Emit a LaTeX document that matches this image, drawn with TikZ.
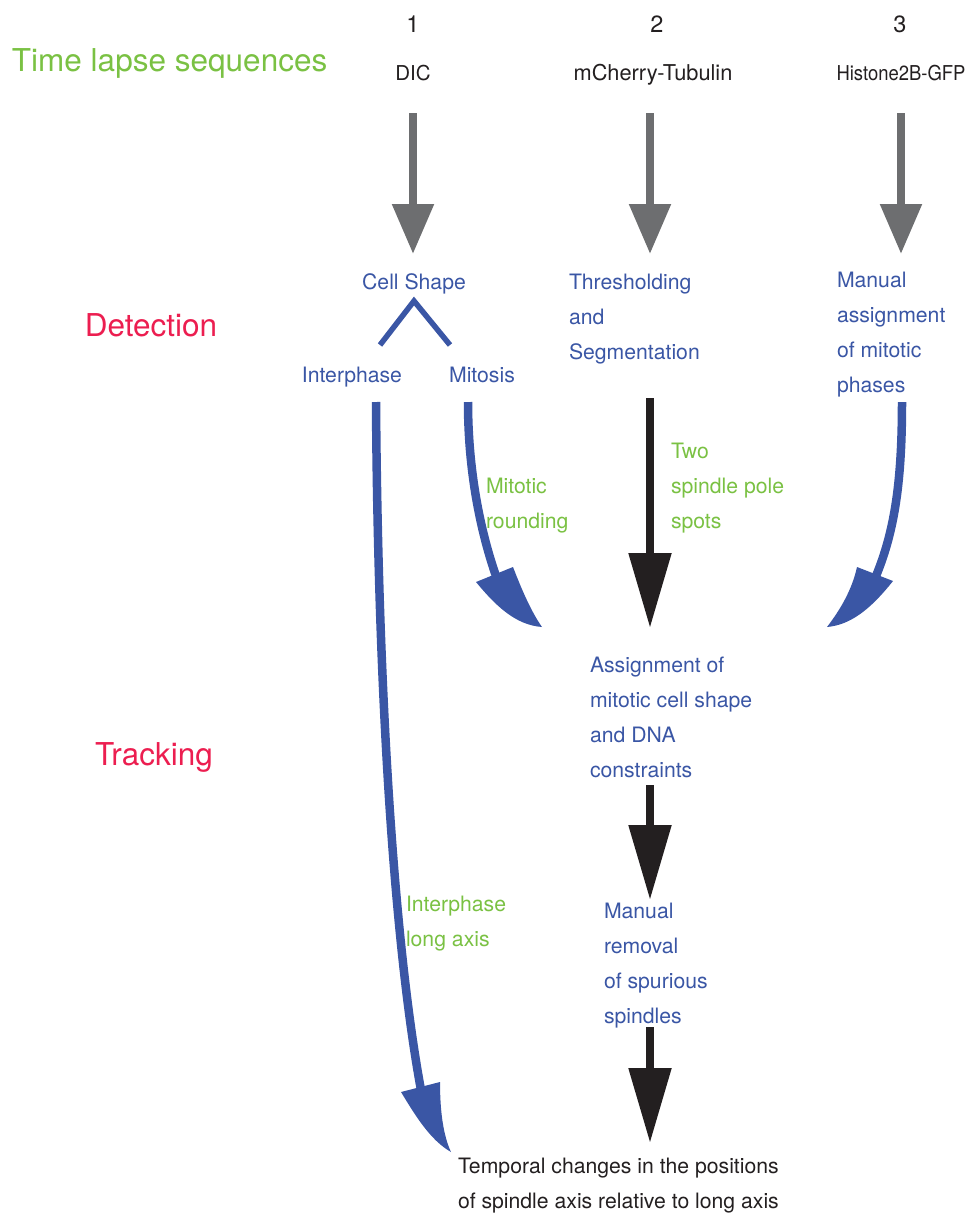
\documentclass[tikz,border=0pt]{standalone}
\usepackage{fontspec}
\usepackage{graphicx}
\setmainfont{TeX Gyre Heros}
\usetikzlibrary{arrows.meta}
\definecolor{cblue}{RGB}{58,86,165}
\definecolor{cgreen}{RGB}{122,193,67}
\definecolor{cred}{RGB}{236,30,80}
\definecolor{cgray}{RGB}{109,110,112}
\definecolor{cblack}{RGB}{35,31,32}
\begin{document}
\begin{tikzpicture}[x=1pt,y=-1pt,
  txt/.style={inner sep=0pt, outer sep=0pt, font=\fontsize{21.2}{35}\selectfont, align=left, anchor=base west},
  ctxt/.style={txt, anchor=base, align=center},
  bluetxt/.style={txt, text=cblue},
  greentxt/.style={txt, text=cgreen},
  blacktxt/.style={txt, text=cblack},
  heading/.style={inner sep=0pt, outer sep=0pt, font=\fontsize{31.5}{36}\selectfont, anchor=base},
  numtxt/.style={inner sep=0pt, outer sep=0pt, font=\fontsize{23.5}{28}\selectfont, anchor=base, text=cblack},
  grayarrow/.style={draw=cgray, line width=8.5pt, -{Triangle[length=50pt,width=40pt]}, color=cgray},
  blackarrow/.style={draw=cblack, line width=8.5pt, -{Triangle[length=75pt,width=41pt]}, color=cblack},
  blueshaft/.style={draw=cblue, line width=8.5pt},
  bluehead/.style={fill=cblue, draw=none},
  vline/.style={draw=cblue, line width=5.5pt}
]
\useasboundingbox (0,0) rectangle (969,1216);

% column numbers and headers
\node[numtxt] (n1) at (413,32) {1};
\node[numtxt] (n2) at (657,32) {2};
\node[numtxt] (n3) at (900,32) {3};
\node[heading, anchor=base west, text=cgreen] (tls) at (12,71) {Time lapse sequences};
\node[ctxt, text=cblack, font=\fontsize{20.5}{35}\selectfont] (dic) at (413,80) {DIC};
\node[ctxt, text=cblack, font=\fontsize{21.8}{35}\selectfont] (mch) at (653,80) {mCherry-Tubulin};
\node[ctxt, text=cblack, font=\fontsize{20.5}{35}\selectfont] (his) at (901,80) {\scalebox{0.9}[1]{Histone2B-GFP}};

% row headings
\node[heading, text=cred] (det) at (151,336) {Detection};
\node[heading, text=cred] (trk) at (154,765) {Tracking};

% detection texts (anchor = baseline of last line)
\node[ctxt, text=cblue] (cell) at (414,289) {Cell Shape};
\node[ctxt, text=cblue] (inter) at (352,382) {Interphase};
\node[ctxt, text=cblue] (mito) at (482,382) {Mitosis};
\node[bluetxt] (thr) at (569,359) {Thresholding\\and\\Segmentation};
\node[bluetxt] (man) at (837,392) {Manual\\assignment\\of mitotic\\phases};

% connector labels
\node[greentxt] (mr) at (486,528) {Mitotic\\rounding};
\node[greentxt] (two) at (671,528) {Two\\spindle pole\\spots};
\node[greentxt] (ila) at (406,946) {Interphase\\long axis};

% tracking texts
\node[bluetxt] (asg) at (590,777) {Assignment of\\mitotic cell shape\\and DNA\\constraints};
\node[bluetxt] (rem) at (604,1023) {Manual\\removal\\of spurious\\spindles};
\node[blacktxt] (tmp) at (458,1208) {Temporal changes in the positions\\of spindle axis relative to long axis};

% gray arrows
\coordinate (g1s) at (413,113); \coordinate (g1e) at (413,254);
\coordinate (g2s) at (650,113); \coordinate (g2e) at (650,254);
\coordinate (g3s) at (901,113); \coordinate (g3e) at (901,254);
\draw[grayarrow] (g1s) -- (g1e);
\draw[grayarrow] (g2s) -- (g2e);
\draw[grayarrow] (g3s) -- (g3e);

% V under Cell Shape
\coordinate (vl) at (380,345); \coordinate (va) at (414,301); \coordinate (vr) at (450,345);
\draw[vline] (vl) -- (va) -- (vr);

% black arrows
\coordinate (k1s) at (650,398); \coordinate (k1e) at (650,628);
\coordinate (k2s) at (650,785); \coordinate (k2e) at (650,900);
\coordinate (k3s) at (650,1027); \coordinate (k3e) at (650,1143);
\draw[blackarrow] (k1s) -- (k1e);
\draw[blackarrow] (k2s) -- (k2e);
\draw[blackarrow] (k3s) -- (k3e);

% blue curved arrow: Mitosis
\coordinate (ms) at (468,402); \coordinate (mb) at (496,576);
\draw[blueshaft] (ms) .. controls (468,470) and (480,530) .. (mb);
\fill[bluehead] (476,582) .. controls (495,605) and (515,625) .. (542,627)
  .. controls (530,610) and (520,585) .. (513,567) -- cycle;

% blue curved arrow: Histone
\coordinate (hs) at (902,402); \coordinate (hb) at (876,576);
\draw[blueshaft] (hs) .. controls (902,480) and (895,530) .. (hb);
\fill[bluehead] (893,581) .. controls (870,610) and (850,625) .. (827,627)
  .. controls (840,610) and (852,590) .. (857,567) -- cycle;

% blue curved arrow: Interphase
\coordinate (is) at (376,402); \coordinate (ib) at (421,1090);
\draw[blueshaft] (is) .. controls (378,700) and (395,950) .. (ib);
\fill[bluehead] (401,1092) .. controls (415,1115) and (430,1140) .. (451,1152)
  .. controls (443,1135) and (440,1110) .. (440,1082) -- cycle;
\end{tikzpicture}
\end{document}
